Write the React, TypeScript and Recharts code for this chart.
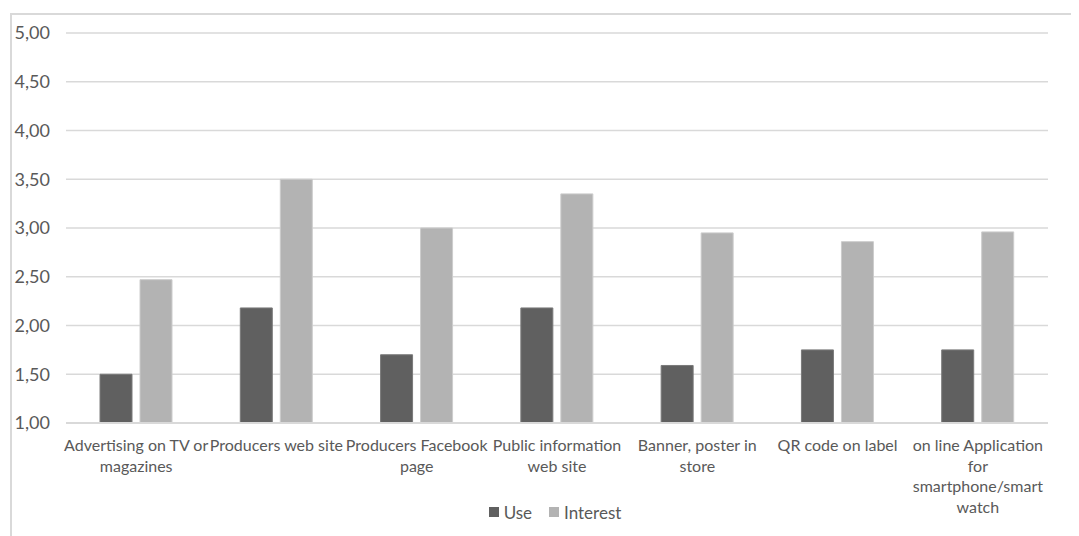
import React from 'react';
import { BarChart, Bar, XAxis, YAxis, CartesianGrid, Legend } from 'recharts';

const categories = [
  'Advertising on TV or magazines',
  'Producers web site',
  'Producers Facebook page',
  'Public information web site',
  'Banner, poster in store',
  'QR code on label',
  'on line Application for smartphone/smart watch',
];

// how the labels wrap in the original
const tickLines: string[][] = [
  ['Advertising on TV or', 'magazines'],
  ['Producers web site'],
  ['Producers Facebook', 'page'],
  ['Public information', 'web site'],
  ['Banner, poster in', 'store'],
  ['QR code on label'],
  ['on line Application', 'for', 'smartphone/smart', 'watch'],
];

const useValues = [1.5, 2.18, 1.7, 2.18, 1.59, 1.75, 1.75];
const interestValues = [2.47, 3.5, 3.0, 3.35, 2.95, 2.86, 2.96];
const yTicks = [1, 1.5, 2, 2.5, 3, 3.5, 4, 4.5, 5];

const data = categories.map((c, i) => ({
  name: c,
  use: useValues[i],
  interest: interestValues[i],
}));

const FONT = 'Lato, "DejaVu Sans", sans-serif';
const TEXT = '#595959';
const GRID = '#d9d9d9';
const USE_COLOR = '#606060';
const INTEREST_COLOR = '#b3b3b3';

const CategoryTick = (props: any) => {
  const { x, y, payload } = props;
  const idx = categories.indexOf(payload.value);
  const lines = tickLines[idx] || [payload.value];
  return (
    <g transform={`translate(${x},${y})`}>
      {lines.map((l, i) => (
        <text
          key={i}
          x={0}
          y={28 + i * 20.5}
          textAnchor="middle"
          fill={TEXT}
          fontSize={16}
          fontFamily={FONT}
        >
          {l}
        </text>
      ))}
    </g>
  );
};

const LegendContent = () => (
  <div
    style={{
      height: 20,
      display: 'flex',
      justifyContent: 'center',
      alignItems: 'center',
      fontFamily: FONT,
      fontSize: 17,
      color: TEXT,
      paddingLeft: 54,
    }}
  >
    <span style={{ width: 10, height: 10, background: USE_COLOR, marginRight: 5 }} />
    <span style={{ marginRight: 17 }}>Use</span>
    <span style={{ width: 10, height: 10, background: INTEREST_COLOR, marginRight: 5 }} />
    <span>Interest</span>
  </div>
);

export default function App() {
  return (
    <div style={{ position: 'relative', width: 1071, height: 528 }}>
      <div
        style={{
          position: 'absolute',
          left: 2,
          top: 5,
          width: 1069,
          height: 523,
          borderTop: `2px solid ${GRID}`,
          borderLeft: `2px solid ${GRID}`,
          boxSizing: 'border-box',
        }}
      />
      <BarChart
        width={1071}
        height={528}
        data={data}
        margin={{ top: 25, right: 31, left: 0, bottom: 14 }}
        barGap={8}
        barSize={32}
        style={{ position: 'absolute', left: 0, top: 0 }}
      >
        <CartesianGrid vertical={false} stroke={GRID} strokeWidth={1.5} />
        <XAxis
          dataKey="name"
          interval={0}
          height={79}
          tickLine={false}
          tickSize={0}
          tickMargin={0}
          axisLine={{ stroke: GRID, strokeWidth: 2 }}
          tick={<CategoryTick />}
        />
        <YAxis
          width={58}
          domain={[1, 5]}
          ticks={yTicks}
          axisLine={false}
          tickLine={false}
          tickSize={0}
          tickMargin={16}
          tickFormatter={(v: number) => v.toFixed(2).replace('.', ',')}
          tick={{ fill: TEXT, fontSize: 18, fontFamily: FONT }}
        />
        <Legend verticalAlign="bottom" height={20} content={<LegendContent />} />
        <Bar dataKey="use" name="Use" fill={USE_COLOR} stroke="#7a7a7a" strokeWidth={1} isAnimationActive={false} />
        <Bar dataKey="interest" name="Interest" fill={INTEREST_COLOR} stroke="#cccccc" strokeWidth={1} isAnimationActive={false} />
      </BarChart>
    </div>
  );
}
